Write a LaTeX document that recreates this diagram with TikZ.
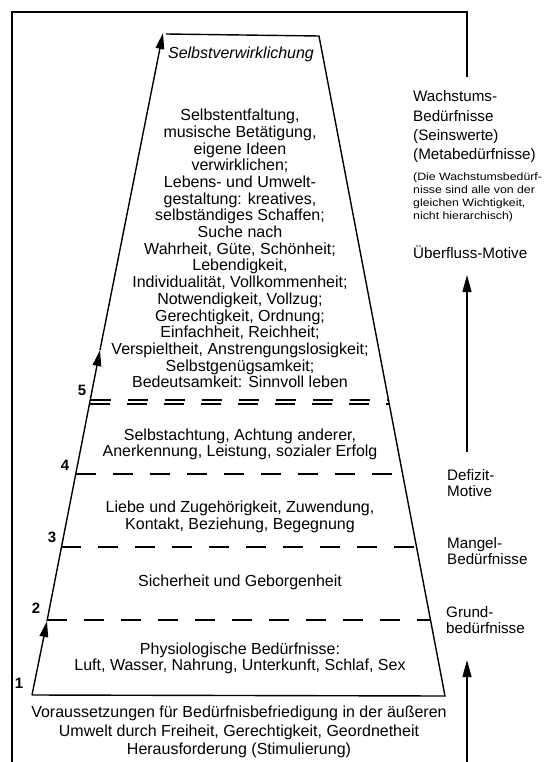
\documentclass[tikz,border=0pt]{standalone}
\usepackage{fontspec}
\setmainfont{Liberation Sans}
\newfontfamily\widesans[FakeStretch=1.15]{Liberation Sans}
\usetikzlibrary{arrows.meta}
\begin{document}
\begin{tikzpicture}[x=1pt,y=-1pt,
  line/.style={line width=1.4pt},
  edgearrow/.style={line width=1.4pt,-{Triangle[length=16pt,width=8.5pt]}},
  uparrow/.style={line width=1.4pt,-{Triangle[length=17pt,width=9pt]}},
  lvl/.style={line width=1.1pt, dash pattern=on 20pt off 17pt},
  txt/.style={font=\fontsize{16}{16.7}\selectfont, align=center, inner sep=0pt},
  side/.style={font=\fontsize{15.2}{19.3}\selectfont, align=left, inner sep=0pt, anchor=west},
  sidetight/.style={font=\fontsize{15.2}{16.5}\selectfont, align=left, inner sep=0pt, anchor=west},
  small/.style={font=\fontsize{10.7}{13}\widesans, align=left, inner sep=0pt, anchor=west},
  num/.style={font=\fontsize{15}{15}\selectfont\bfseries, inner sep=0pt}]
\useasboundingbox (0,0) rectangle (546,762);
% frame
\coordinate (f1) at (12,762);
\coordinate (f2) at (12,12);
\coordinate (f3) at (467,12);
\coordinate (f4) at (467,77);
\draw[line] (f1) -- (f2) -- (f3) -- (f4);
% right arrows
\coordinate (a1) at (467,452);
\coordinate (a2) at (467,275);
\coordinate (b1) at (467,762);
\coordinate (b2) at (467,660);
\draw[uparrow] (a1) -- (a2);
\draw[uparrow] (b1) -- (b2);
% pyramid
\coordinate (p1) at (32,695);
\coordinate (p2) at (47,621);
\coordinate (p5) at (100,350);
\coordinate (pt) at (163,33);
\coordinate (tl) at (166,34);
\coordinate (tr) at (319,36);
\coordinate (br) at (445,696);
\draw[line] (tl) -- (tr) -- (br) -- (p1);
\draw[edgearrow] (p1) -- (p2);
\draw[edgearrow] (p2) -- (p5);
\draw[edgearrow] (p5) -- (pt);
% level lines
\coordinate (l2a) at (46.9,620); \coordinate (l2b) at (430.5,620);
\coordinate (l3a) at (61.4,547); \coordinate (l3b) at (416.6,547);
\coordinate (l4a) at (75.9,474); \coordinate (l4b) at (402.7,474);
\coordinate (l5a) at (90.6,400); \coordinate (l5b) at (388.6,400);
\coordinate (l6a) at (89.8,404); \coordinate (l6b) at (389.3,404);
\draw[lvl] (l2a) -- (l2b);
\draw[lvl] (l3a) -- (l3b);
\draw[lvl] (l4a) -- (l4b);
\draw[lvl] (l5a) -- (l5b);
\draw[lvl] (l6a) -- (l6b);
% numbers
\node[num] (n1) at (19,683) {1};
\node[num] (n2) at (36,608) {2};
\node[num] (n3) at (52,537) {3};
\node[num] (n4) at (65,465) {4};
\node[num] (n5) at (82,390) {5};
% texts inside
\node[txt, font=\fontsize{16}{16.7}\selectfont\itshape] (sv) at (241,54) {Selbstverwirklichung};
\node[txt] (top) at (240,248.5) {Selbstentfaltung,\\musische Betätigung,\\eigene Ideen\\verwirklichen;\\Lebens- und Umwelt-\\gestaltung: kreatives,\\selbständiges Schaffen;\\Suche nach\\Wahrheit, Güte, Schönheit;\\Lebendigkeit,\\Individualität, Vollkommenheit;\\Notwendigkeit, Vollzug;\\Gerechtigkeit, Ordnung;\\Einfachheit, Reichheit;\\Verspieltheit, Anstrengungslosigkeit;\\Selbstgenügsamkeit;\\Bedeutsamkeit: Sinnvoll leben};
\node[txt] (t4) at (240,444.5) {Selbstachtung, Achtung anderer,\\Anerkennung, Leistung, sozialer Erfolg};
\node[txt] (t3) at (240,517) {Liebe und Zugehörigkeit, Zuwendung,\\Kontakt, Beziehung, Begegnung};
\node[txt] (t2) at (240,582) {Sicherheit und Geborgenheit};
\node[txt] (t1) at (240,658.5) {Physiologische Bedürfnisse:\\Luft, Wasser, Nahrung, Unterkunft, Schlaf, Sex};
\node[txt, font=\fontsize{16}{18.5}\selectfont] (t0) at (239,732) {Voraussetzungen für Bedürfnisbefriedigung in der äußeren\\Umwelt durch Freiheit, Gerechtigkeit, Geordnetheit\\Herausforderung (Stimulierung)};
% right side
\node[side] (w) at (413,127) {Wachstums-\\Bedürfnisse\\(Seinswerte)\\(Metabedürfnisse)};
\node[small] (wn) at (413,197) {(Die Wachstumsbedürf-\\nisse sind alle von der\\gleichen Wichtigkeit,\\nicht hierarchisch)};
\node[side] (ue) at (413,252) {Überfluss-Motive};
\node[sidetight] (dm) at (447,483) {Defizit-\\Motive};
\node[sidetight] (mb) at (447,551) {Mangel-\\Bedürfnisse};
\node[sidetight] (gb) at (446,620) {Grund-\\bedürfnisse};
\end{tikzpicture}
\end{document}
